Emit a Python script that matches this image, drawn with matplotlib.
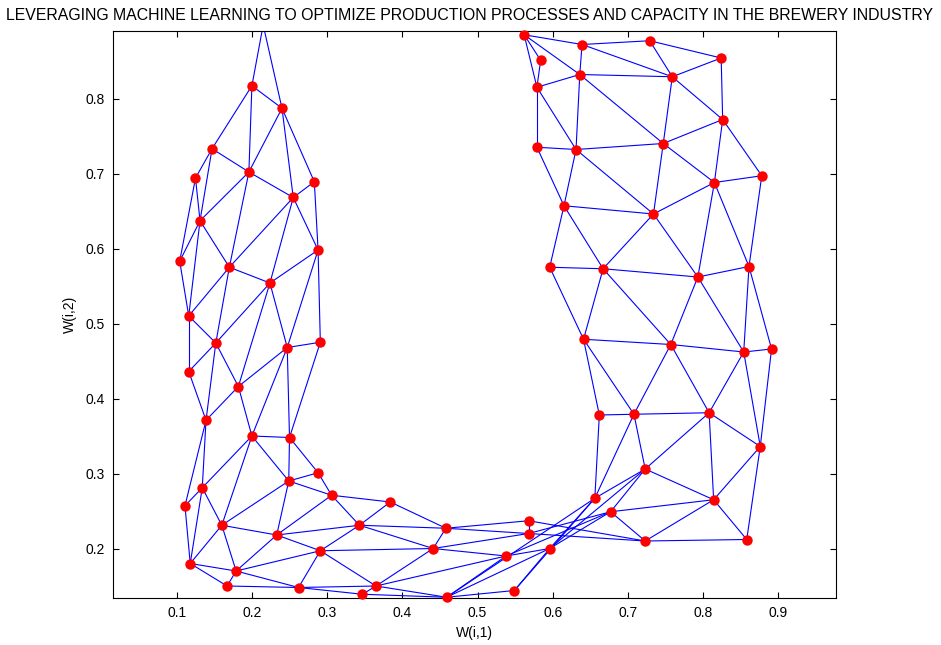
import matplotlib
matplotlib.use("Agg")
import matplotlib.pyplot as plt
import numpy as np

plt.rcParams['font.family'] = ['Liberation Sans', 'DejaVu Sans']

# ---- data ----
node_names = (["L%d" % i for i in range(34)] + ["B%d" % i for i in range(1, 13)]
              + ["R%d" % i for i in range(1, 35)])

left_x = [0.215, 0.200, 0.240, 0.147, 0.125, 0.196, 0.283, 0.255, 0.131, 0.104,
          0.170, 0.288, 0.224, 0.116, 0.152, 0.247, 0.291, 0.116, 0.182, 0.139,
          0.200, 0.250, 0.288, 0.249, 0.306, 0.134, 0.111, 0.160, 0.233, 0.291,
          0.118, 0.179, 0.167, 0.262]
left_y = [0.898, 0.817, 0.787, 0.733, 0.694, 0.702, 0.689, 0.668, 0.637, 0.583,
          0.575, 0.598, 0.554, 0.510, 0.474, 0.468, 0.475, 0.436, 0.416, 0.371,
          0.350, 0.348, 0.301, 0.290, 0.271, 0.281, 0.257, 0.231, 0.218, 0.197,
          0.180, 0.170, 0.150, 0.148]
bottom_x = [0.384, 0.343, 0.458, 0.441, 0.538, 0.365, 0.347, 0.459, 0.549, 0.568, 0.568, 0.596]
bottom_y = [0.262, 0.231, 0.227, 0.200, 0.190, 0.150, 0.139, 0.135, 0.144, 0.237, 0.220, 0.200]
right_x = [0.562, 0.584, 0.639, 0.729, 0.824, 0.579, 0.636, 0.759, 0.826, 0.579,
           0.631, 0.747, 0.815, 0.878, 0.615, 0.734, 0.596, 0.667, 0.793, 0.861,
           0.641, 0.757, 0.854, 0.891, 0.662, 0.708, 0.808, 0.876, 0.723, 0.656,
           0.814, 0.677, 0.723, 0.858]
right_y = [0.885, 0.851, 0.872, 0.877, 0.854, 0.815, 0.832, 0.829, 0.772, 0.735,
           0.732, 0.740, 0.688, 0.697, 0.657, 0.646, 0.575, 0.573, 0.562, 0.576,
           0.479, 0.472, 0.462, 0.466, 0.378, 0.379, 0.381, 0.336, 0.306, 0.267,
           0.265, 0.249, 0.210, 0.212]

edges_left = [
    ("L0", "L1"), ("L0", "L2"), ("L1", "L2"), ("L1", "L3"), ("L1", "L5"), ("L2", "L5"),
    ("L2", "L7"), ("L2", "L6"), ("L3", "L4"), ("L3", "L5"), ("L3", "L8"), ("L4", "L8"),
    ("L4", "L9"), ("L5", "L8"), ("L5", "L10"), ("L5", "L7"), ("L6", "L7"), ("L6", "L11"),
    ("L7", "L10"), ("L7", "L11"), ("L7", "L12"), ("L8", "L9"), ("L8", "L10"), ("L8", "L13"),
    ("L9", "L13"), ("L10", "L12"), ("L10", "L13"), ("L10", "L14"), ("L11", "L12"),
    ("L11", "L15"), ("L11", "L16"), ("L12", "L14"), ("L12", "L15"), ("L12", "L18"),
    ("L13", "L14"), ("L13", "L17"), ("L14", "L17"), ("L14", "L18"), ("L14", "L19"),
    ("L15", "L16"), ("L15", "L18"), ("L15", "L20"), ("L15", "L21"), ("L16", "L21"),
    ("L17", "L19"), ("L18", "L19"), ("L18", "L20"), ("L19", "L25"), ("L19", "L26"),
    ("L20", "L21"), ("L20", "L23"), ("L20", "L25"), ("L20", "L27"), ("L21", "L22"),
    ("L21", "L23"), ("L22", "L23"), ("L22", "L24"), ("L23", "L24"), ("L23", "L27"),
    ("L23", "L28"), ("L24", "L28"), ("L25", "L26"), ("L25", "L27"), ("L25", "L30"),
    ("L26", "L30"), ("L27", "L28"), ("L27", "L30"), ("L27", "L31"), ("L28", "L29"),
    ("L28", "L31"), ("L29", "L31"), ("L30", "L31"), ("L30", "L32"), ("L31", "L32"),
    ("L31", "L33"), ("L32", "L33"), ("L29", "L33"),
]
edges_bottom = [
    ("L24", "B1"), ("L24", "B2"), ("B1", "B2"), ("B1", "B3"), ("B2", "B3"), ("B2", "B4"),
    ("B2", "L28"), ("B2", "L29"), ("L29", "B4"), ("L29", "B6"), ("L33", "B6"), ("L33", "B7"),
    ("B3", "B4"), ("B3", "B10"), ("B3", "B11"), ("B4", "B11"), ("B4", "B5"), ("B4", "B6"),
    ("B6", "B5"), ("B6", "B7"), ("B6", "B8"), ("B7", "B8"), ("B8", "B5"), ("B8", "B9"),
    ("B8", "B12"), ("B8", "R30"), ("B5", "B12"), ("B9", "B12"), ("B9", "R30"),
    ("B10", "B11"), ("B10", "R33"), ("B11", "R33"), ("B11", "R32"), ("B5", "R32"),
    ("B12", "R32"), ("B12", "R29"), ("B12", "R30"),
]
edges_right = [
    ("R1", "R2"), ("R1", "R3"), ("R1", "R6"), ("R1", "R7"), ("R2", "R6"), ("R3", "R4"),
    ("R3", "R7"), ("R3", "R8"), ("R4", "R5"), ("R4", "R8"), ("R5", "R8"), ("R5", "R9"),
    ("R6", "R7"), ("R6", "R10"), ("R6", "R11"), ("R7", "R8"), ("R7", "R11"), ("R7", "R12"),
    ("R8", "R9"), ("R8", "R12"), ("R9", "R12"), ("R9", "R13"), ("R9", "R14"),
    ("R10", "R11"), ("R10", "R15"), ("R11", "R12"), ("R11", "R15"), ("R11", "R16"),
    ("R12", "R13"), ("R12", "R16"), ("R13", "R14"), ("R13", "R16"), ("R13", "R19"),
    ("R13", "R20"), ("R14", "R20"), ("R15", "R16"), ("R15", "R17"), ("R15", "R18"),
    ("R16", "R18"), ("R16", "R19"), ("R17", "R18"), ("R17", "R21"), ("R18", "R19"),
    ("R18", "R21"), ("R18", "R22"), ("R19", "R20"), ("R19", "R22"), ("R19", "R23"),
    ("R20", "R23"), ("R20", "R24"), ("R21", "R22"), ("R21", "R25"), ("R21", "R26"),
    ("R22", "R23"), ("R22", "R26"), ("R22", "R27"), ("R23", "R24"), ("R23", "R27"),
    ("R23", "R28"), ("R24", "R28"), ("R25", "R26"), ("R25", "R30"), ("R26", "R27"),
    ("R26", "R29"), ("R26", "R30"), ("R27", "R28"), ("R27", "R29"), ("R27", "R31"),
    ("R28", "R31"), ("R28", "R34"), ("R29", "R30"), ("R29", "R31"), ("R29", "R32"),
    ("R31", "R32"), ("R31", "R33"), ("R31", "R34"), ("R32", "R33"), ("R33", "R34"),
]

x_ticks = [0.1, 0.2, 0.3, 0.4, 0.5, 0.6, 0.7, 0.8, 0.9]
y_ticks = [0.2, 0.3, 0.4, 0.5, 0.6, 0.7, 0.8]
title = "LEVERAGING MACHINE LEARNING TO OPTIMIZE PRODUCTION PROCESSES AND CAPACITY IN THE BREWERY INDUSTRY"

# ---- build ----
xs = np.array(left_x + bottom_x + right_x)
ys = np.array(left_y + bottom_y + right_y)
idx = {n: i for i, n in enumerate(node_names)}

fig = plt.figure(figsize=(9.41, 6.45), dpi=100)
ax = fig.add_axes([113 / 941, 1 - 598 / 645, 723 / 941, 567 / 645])
xlim = (0.0153, 0.9767)
ylim = (0.134, 0.890)

for a, b in edges_left + edges_bottom + edges_right:
    i, j = idx[a], idx[b]
    ax.plot([xs[i], xs[j]], [ys[i], ys[j]], color='#0000ff', lw=0.8, zorder=2)

inside = (ys <= ylim[1]) & (ys >= ylim[0] - 0.002)
ax.plot(xs[inside], ys[inside], 'o', color='#ff0000', markersize=7.5,
        markeredgewidth=0, zorder=3, clip_on=False)

ax.set_xlim(*xlim)
ax.set_ylim(*ylim)
ax.set_xticks(x_ticks)
ax.set_yticks(y_ticks)
ax.set_xticklabels([f"{v:g}" for v in x_ticks])
ax.set_yticklabels([f"{v:g}" for v in y_ticks])
ax.tick_params(direction='in', length=4, width=0.8, top=True, right=True,
               labelsize=10, pad=6, colors='black')
for s in ax.spines.values():
    s.set_linewidth(0.8)
ax.set_xlabel("W(i,1)", fontsize=10, labelpad=4)
ax.set_ylabel("W(i,2)", fontsize=10, labelpad=6)
fig.text(470 / 941, 1 - 15 / 645, title, ha='center', va='center', fontsize=11.4)

fig.savefig("out.png", dpi=100)
